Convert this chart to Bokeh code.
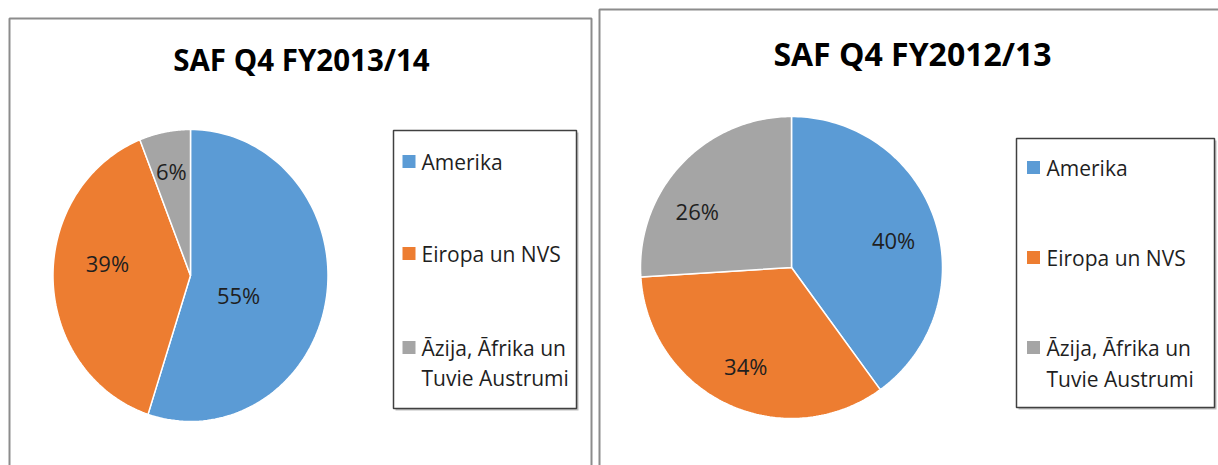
import numpy as np
from bokeh.plotting import figure
from bokeh.models import Range1d
from bokeh.core.properties import value
from bokeh.embed import file_html
from bokeh.resources import INLINE

# ---------------- data ----------------
categories = ["Amerika", "Eiropa un NVS", "Āzija, Āfrika un Tuvie Austrumi"]
legend_lines = [["Amerika"], ["Eiropa un NVS"], ["Āzija, Āfrika un", "Tuvie Austrumi"]]
titles = ["SAF Q4 FY2013/14", "SAF Q4 FY2012/13"]
values_fy2013_14 = [55, 39, 6]
values_fy2012_13 = [40, 34, 26]
series = [values_fy2013_14, values_fy2012_13]

# ---------------- style / layout ----------------
colors = ["#5B9BD5", "#ED7D31", "#A5A5A5"]
FONT = "Open Sans"
W, H = 1218, 465

panels = [
    dict(box=(9, 591, 18, 480), title_xy=(301, 59), title_size="29.5px",
         center=(190, 275), rx=137.5, ry=146,
         legend_box=(393, 576, 130, 408), legend_ys=[161, 253, 347, 377],
         marker_x=408.5, text_x=421,
         label_pos=[(0.375, 111), (0.61, 278), (0.73, 349)]),
    dict(box=(599, 1240, 9, 480), title_xy=(912, 53), title_size="32px",
         center=(791, 267), rx=151, ry=151,
         legend_box=(1016, 1214, 138, 407), legend_ys=[167, 257, 347, 378],
         marker_x=1033, text_x=1046,
         label_pos=[(0.70, 75), (0.717, 205), (0.728, 301)]),
]

p = figure(width=W, height=H, x_range=Range1d(0, W), y_range=Range1d(H, 0),
           output_backend="svg", toolbar_location=None, min_border=0,
           x_axis_type=None, y_axis_type=None)
p.grid.visible = False
p.outline_line_color = None
p.background_fill_color = "white"
p.border_fill_color = "white"

for panel, vals, title in zip(panels, series, titles):
    l, r, t, b = panel["box"]
    p.quad(left=[l], right=[r], top=[t], bottom=[b], fill_color="white",
           line_color="#8c8c8c", line_width=2)

    # title
    tx, ty = panel["title_xy"]
    p.text(x=[tx], y=[ty], text=[title], text_font=value(FONT),
           text_font_size=panel["title_size"], text_font_style="bold",
           text_align="center", text_baseline="middle", text_color="#000000")

    # pie slices (elliptical wedges computed from the values)
    cx, cy = panel["center"]
    rx, ry = panel["rx"], panel["ry"]
    total = float(sum(vals))
    cum = np.cumsum([0] + list(vals)) / total * 2 * np.pi
    xs, ys = [], []
    for i in range(len(vals)):
        ang = np.linspace(cum[i], cum[i + 1], 120)
        xs.append([cx] + list(cx + rx * np.sin(ang)))
        ys.append([cy] + list(cy - ry * np.cos(ang)))
    p.patches(xs=xs, ys=ys, fill_color=colors, line_color="white", line_width=1.5)

    # percentage labels
    lx, ly, lt = [], [], []
    for v, (f, deg) in zip(vals, panel["label_pos"]):
        a = np.deg2rad(deg)
        lx.append(cx + f * rx * np.sin(a))
        ly.append(cy - f * ry * np.cos(a))
        lt.append(f"{round(v / total * 100)}%")
    p.text(x=lx, y=ly, text=lt, text_font=value(FONT), text_font_size="22px",
           text_align="center", text_baseline="middle", text_color="#1f1f1f")

    # legend box
    bl, br, bt, bb = panel["legend_box"]
    p.quad(left=[bl + 2], right=[br + 2], top=[bt + 2], bottom=[bb + 2],
           fill_color="#bdbdbd", line_color=None)
    p.quad(left=[bl], right=[br], top=[bt], bottom=[bb], fill_color="white",
           line_color="#404040", line_width=1.5)
    ys_leg = panel["legend_ys"]
    mk_y = [ys_leg[0], ys_leg[1], ys_leg[2]]
    p.rect(x=[panel["marker_x"]] * 3, y=mk_y, width=13, height=13,
           fill_color=colors, line_color=None)
    txt, txx, txy = [], [], []
    k = 0
    for lines in legend_lines:
        for line in lines:
            txt.append(line)
            txx.append(panel["text_x"])
            txy.append(ys_leg[k])
            k += 1
    p.text(x=txx, y=txy, text=txt, text_font=value(FONT), text_font_size="21px",
           text_align="left", text_baseline="middle", text_color="#1f1f1f")

open("out.html", "w").write(file_html(p, INLINE))
